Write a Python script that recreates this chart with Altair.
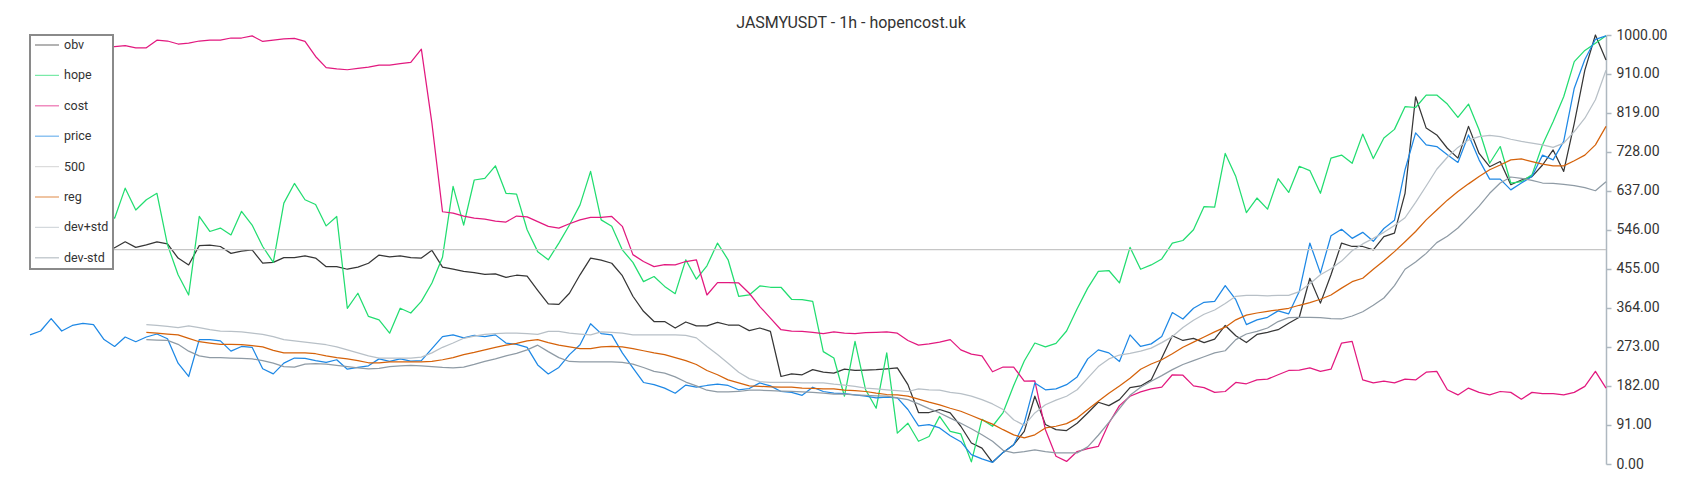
import altair as alt
import pandas as pd

title_text = "JASMYUSDT - 1h - hopencost.uk"
series_names = ["obv", "hope", "cost", "price", "500", "reg", "dev+std", "dev-std"]
series_colors = ["#363636", "#22dd70", "#e2197f", "#1e88e5", "#c6c6c6", "#d5620a", "#b8c0c7", "#8f9ba5"]
series_widths = [1.25, 1.25, 1.25, 1.25, 2.0, 3.0, 1.3, 1.5]
tick_values = [0, 91, 182, 273, 364, 455, 546, 637, 728, 819, 910, 1000]

price = [
    301, 310, 339, 310, 323, 328, 325, 290, 274, 296,
    285, 296, 303, 292, 235, 204, 290, 290, 287, 263,
    274, 272, 222, 210, 235, 247, 246, 241, 237, 243,
    221, 225, 229, 245, 239, 245, 240, 241, 269, 297,
    301, 294, 300, 297, 301, 282, 279, 272, 231, 210,
    225, 255, 278, 327, 304, 301, 259, 224, 190, 185,
    177, 165, 184, 179, 183, 186, 183, 173, 176, 189,
    182, 169, 167, 160, 179, 169, 165, 164, 161, 158,
    154, 156, 154, 127, 89, 92, 84, 66, 52, 22,
    12, 4, 27, 45, 96, 189, 173, 175, 185, 203,
    245, 266, 259, 239, 301, 274, 280, 297, 353, 338,
    363, 377, 379, 416, 383, 325, 336, 342, 357, 350,
    402, 515, 445, 532, 547, 526, 540, 519, 549, 568,
    686, 772, 744, 740, 721, 703, 767, 709, 664, 664,
    639, 655, 670, 720, 709, 752, 876, 943, 990, 998,
]

obv = [
    515, 512, 518, 510, 514, 508, 512, 506, 504, 518,
    505, 511, 518, 513, 480, 464, 509, 510, 507, 491,
    496, 499, 468, 470, 481, 481, 485, 480, 460, 460,
    454, 459, 468, 487, 483, 485, 481, 480, 498, 459,
    454, 449, 446, 442, 443, 435, 440, 438, 405, 373,
    372, 398, 441, 480, 475, 468, 439, 391, 356, 332,
    332, 317, 331, 322, 322, 330, 324, 324, 311, 317,
    309, 204, 210, 208, 220, 214, 212, 221, 218, 219,
    220, 222, 224, 185, 120, 120, 127, 119, 88, 49,
    37, 4, 27, 45, 76, 158, 92, 80, 78, 95,
    119, 144, 136, 150, 178, 182, 196, 247, 299, 288,
    293, 283, 291, 323, 299, 283, 302, 307, 313, 328,
    342, 433, 375, 441, 515, 507, 507, 499, 530, 538,
    631, 856, 783, 767, 736, 713, 787, 724, 693, 705,
    651, 662, 670, 697, 732, 682, 794, 918, 1000, 942,
]

hope = [
    600, 615, 590, 630, 605, 625, 595, 590, 573, 643,
    592, 616, 631, 511, 441, 394, 577, 542, 550, 534,
    589, 557, 507, 470, 608, 654, 616, 605, 555, 577,
    363, 398, 344, 336, 305, 363, 352, 379, 422, 482,
    647, 557, 662, 666, 695, 631, 629, 546, 495, 476,
    515, 557, 604, 682, 569, 554, 499, 470, 425, 437,
    414, 397, 476, 431, 462, 515, 476, 391, 394, 415,
    412, 412, 384, 383, 379, 262, 247, 158, 286, 173,
    130, 259, 72, 95, 53, 64, 111, 76, 70, 5,
    104, 88, 120, 183, 240, 282, 273, 281, 310, 362,
    410, 449, 451, 422, 505, 454, 464, 478, 515, 521,
    546, 600, 599, 724, 670, 586, 620, 594, 665, 633,
    694, 684, 631, 713, 720, 701, 769, 712, 760, 780,
    833, 831, 860, 860, 839, 808, 839, 779, 701, 740,
    655, 658, 674, 744, 798, 856, 938, 964, 981, 998,
]

cost = [
    970, 972, 975, 970, 968, 972, 975, 973, 973, 975,
    970, 970, 988, 986, 979, 981, 986, 988, 988, 993,
    993, 998, 985, 988, 991, 992, 985, 950, 924, 921,
    919, 922, 925, 930, 930, 933, 936, 967, 794, 588,
    585, 578, 573, 571, 566, 564, 578, 576, 565, 554,
    550, 560, 569, 575, 575, 577, 554, 488, 472, 460,
    465, 464, 472, 476, 394, 423, 423, 422, 398, 367,
    340, 313, 310, 309, 307, 304, 308, 305, 304, 306,
    307, 308, 305, 288, 277, 280, 284, 290, 266, 256,
    252, 215, 226, 226, 193, 194, 80, 18, 6, 29,
    36, 41, 95, 136, 158, 168, 175, 179, 208, 207,
    182, 178, 167, 169, 190, 187, 196, 198, 208, 218,
    219, 224, 216, 221, 282, 286, 196, 189, 193, 189,
    198, 196, 214, 216, 173, 161, 177, 167, 161, 169,
    167, 151, 167, 164, 164, 161, 167, 181, 216, 177,
]

level_500 = [500] * 150

reg = [None] * 11 + [
    307, 305, 303, 301, 293, 285, 282, 279, 279, 278,
    276, 273, 265, 259, 259, 259, 257, 252, 248, 245,
    241, 236, 236, 238, 238, 238, 238, 239, 243, 248,
    255, 260, 266, 272, 277, 281, 287, 290, 283, 277,
    273, 269, 269, 273, 274, 273, 269, 264, 259, 255,
    248, 241, 232, 218, 208, 196, 189, 182, 181, 180,
    179, 179, 177, 176, 175, 175, 172, 171, 169, 165,
    162, 161, 158, 151, 144, 138, 130, 123, 113, 103,
    93, 80, 68, 61, 68, 84, 88, 94, 107, 127,
    146, 165, 182, 200, 221, 233, 243, 257, 272, 284,
    296, 308, 319, 336, 347, 352, 356, 359, 363, 370,
    376, 384, 394, 410, 425, 433, 454, 474, 495, 518,
    542, 569, 592, 615, 635, 653, 670, 686, 697, 709,
    711, 705, 699, 695, 695, 707, 720, 744, 787,
]

dev_plus = [None] * 11 + [
    325, 323, 321, 318, 322, 318, 313, 310, 309, 308,
    305, 302, 297, 290, 287, 284, 281, 278, 273, 266,
    259, 252, 247, 247, 247, 247, 249, 259, 272, 282,
    293, 298, 302, 304, 305, 305, 304, 302, 309, 309,
    305, 303, 301, 308, 307, 305, 301, 301, 301, 301,
    301, 300, 294, 274, 255, 235, 214, 199, 192, 190,
    190, 190, 189, 189, 189, 186, 184, 181, 177, 175,
    173, 171, 169, 175, 173, 172, 167, 164, 158, 150,
    140, 127, 103, 90, 119, 138, 149, 158, 173, 200,
    227, 245, 254, 258, 263, 270, 283, 297, 318, 335,
    349, 359, 374, 391, 393, 393, 392, 393, 393, 402,
    420, 441, 455, 473, 497, 513, 526, 540, 556, 574,
    610, 648, 687, 715, 738, 755, 763, 766, 763, 757,
    752, 748, 744, 738, 748, 775, 806, 849, 918,
]

dev_minus = [None] * 11 + [
    290, 289, 288, 279, 263, 252, 248, 248, 247, 246,
    245, 241, 235, 227, 226, 233, 234, 233, 230, 227,
    224, 222, 223, 227, 229, 230, 229, 227, 225, 224,
    226, 232, 239, 245, 252, 258, 266, 277, 262, 248,
    239, 238, 238, 238, 238, 237, 233, 225, 216, 212,
    203, 191, 182, 172, 168, 168, 169, 172, 172, 171,
    170, 169, 168, 167, 165, 163, 163, 161, 160, 159,
    158, 154, 150, 140, 129, 119, 107, 95, 82, 68,
    53, 32, 26, 29, 33, 29, 26, 26, 26, 40,
    67, 97, 129, 160, 179, 193, 206, 220, 232, 241,
    250, 259, 264, 290, 303, 309, 317, 332, 341, 342,
    342, 341, 339, 338, 345, 355, 370, 387, 416, 454,
    471, 491, 516, 531, 550, 575, 601, 631, 655, 669,
    666, 661, 655, 654, 652, 649, 644, 637, 658,
]

all_series = {
    "obv": obv, "hope": hope, "cost": cost, "price": price,
    "500": level_500, "reg": reg, "dev+std": dev_plus, "dev-std": dev_minus,
}

rows = []
for name in series_names:
    for i, v in enumerate(all_series[name]):
        if v is not None:
            rows.append({"bar": i, "value": v, "series": name})
df = pd.DataFrame(rows)

n_bars = len(price)

chart = alt.Chart(df).mark_line(strokeJoin="round").encode(
    x=alt.X("bar:Q", axis=None,
            scale=alt.Scale(domain=[0, n_bars - 1], nice=False, zero=False)),
    y=alt.Y("value:Q",
            scale=alt.Scale(domain=[0, 1000], nice=False),
            axis=alt.Axis(orient="right", values=tick_values, format=".2f", title=None,
                          grid=False, domainColor="#aeb8c0", domainWidth=1.5,
                          tickColor="#aeb8c0", tickWidth=1.5, tickSize=5, labelPadding=5,
                          labelFont="Roboto", labelFontSize=14, labelColor="#333333")),
    color=alt.Color("series:N", sort=series_names,
                    scale=alt.Scale(domain=series_names, range=series_colors),
                    legend=alt.Legend(title=None)),
    strokeWidth=alt.StrokeWidth("series:N",
                                scale=alt.Scale(domain=series_names, range=series_widths),
                                legend=None),
).properties(
    width=1576,
    height=429,
    title=alt.TitleParams(title_text, font="Roboto", fontSize=16, fontWeight="normal",
                          color="#333333", dx=33, dy=11, offset=8),
    autosize=alt.AutoSizeParams(type="none"),
    padding={"left": 22, "top": 27, "right": 80, "bottom": 20},
).configure_view(
    strokeWidth=0
).configure_legend(
    orient="top-left", offset=0, padding=4, fillColor="white",
    strokeColor="#8a8a8a", strokeWidth=2, cornerRadius=0,
    rowPadding=17.4, clipHeight=12,
    labelFont="Roboto", labelFontSize=12.5, labelColor="#333333",
    symbolType="stroke", symbolSize=576, symbolStrokeWidth=2, symbolOpacity=0.6,
    labelOffset=4, symbolOffset=0,
)

chart.save("out.html", embed_options={"renderer": "svg", "actions": False})
